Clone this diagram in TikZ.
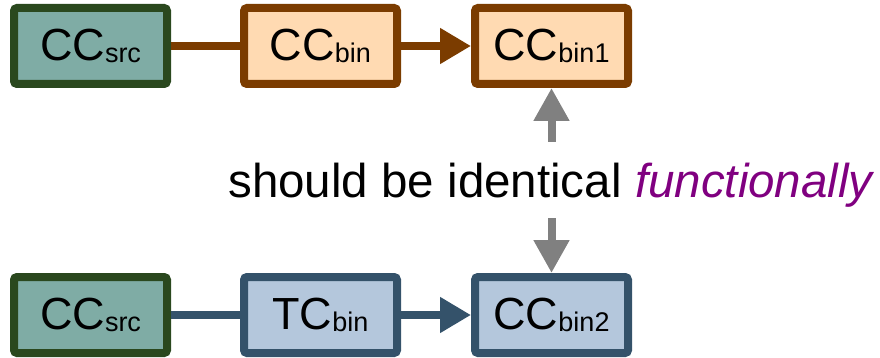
\documentclass[tikz,border=0pt]{standalone}
\usepackage{fontspec}
\setmainfont{Liberation Sans}
\usetikzlibrary{arrows.meta}
\definecolor{srcfill}{RGB}{127,172,165}
\definecolor{srcdraw}{RGB}{42,72,30}
\definecolor{binfill}{RGB}{255,218,178}
\definecolor{bindraw}{RGB}{123,60,0}
\definecolor{tcfill}{RGB}{180,199,220}
\definecolor{tcdraw}{RGB}{52,82,106}
\definecolor{arrgray}{RGB}{128,128,128}
\definecolor{purp}{RGB}{128,0,128}
\newcommand{\lbl}[2]{{\fontsize{45}{45}\selectfont #1}\raisebox{-2.5pt}{\fontsize{27}{27}\selectfont #2}}
\tikzset{
  boxbase/.style={rectangle, rounded corners=3pt, line width=8pt, minimum width=153pt, minimum height=76pt, inner sep=0pt, align=center},
  srcbox/.style={boxbase, draw=srcdraw, fill=srcfill},
  binbox/.style={boxbase, draw=bindraw, fill=binfill},
  tcbox/.style={boxbase, draw=tcdraw, fill=tcfill},
  conn/.style={line width=8pt},
  tri/.style={-{Triangle[length=31pt,width=34pt]}},
  grayarr/.style={line width=8pt, draw=arrgray, -{Triangle[length=33pt,width=34pt]}}
}
\begin{document}
\begin{tikzpicture}[x=1pt,y=-1pt]
\useasboundingbox (0,0) rectangle (880,358);
\node[srcbox] (s1) at (90.5,46) {\lbl{CC}{src}};
\node[binbox] (b1) at (320.5,46) {\lbl{CC}{bin}};
\node[binbox] (c1) at (551.5,46) {\lbl{CC}{bin1}};
\node[srcbox] (s2) at (90.5,315) {\lbl{CC}{src}};
\node[tcbox] (t2) at (320.5,315) {\lbl{TC}{bin}};
\node[tcbox] (c2) at (551.5,315) {\lbl{CC}{bin2}};
\draw[conn, draw=bindraw] (s1) -- (b1);
\draw[conn, draw=bindraw, tri] (b1) -- (c1);
\draw[conn, draw=tcdraw] (s2) -- (t2);
\draw[conn, draw=tcdraw, tri] (t2) -- (c2);
\node[inner sep=0pt, anchor=base] (txt) at (550.5,197) {\fontsize{47.5}{47.5}\selectfont should be identical \textcolor{purp}{\itshape functionally}};
\coordinate (up) at (551.5,142);
\coordinate (dn) at (551.5,218);
\draw[grayarr] (up) -- (c1);
\draw[grayarr] (dn) -- (c2);
\end{tikzpicture}
\end{document}
